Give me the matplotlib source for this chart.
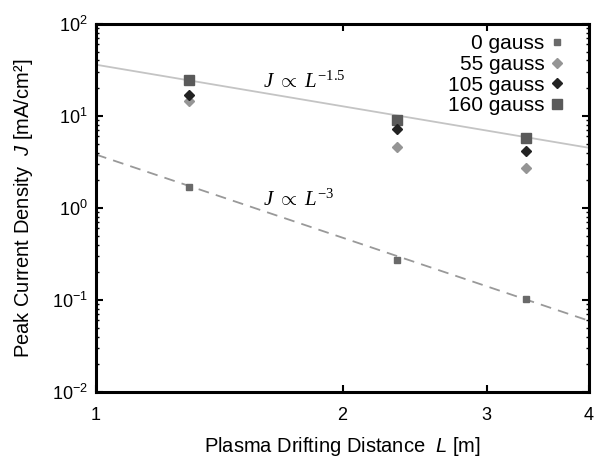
import matplotlib
matplotlib.use("Agg")
import matplotlib.pyplot as plt
import numpy as np
from matplotlib.ticker import FixedLocator, NullLocator, FixedFormatter, LogLocator

plt.rcParams['font.family'] = ['Liberation Sans', 'DejaVu Sans']
plt.rcParams['mathtext.fontset'] = 'custom'
plt.rcParams['mathtext.rm'] = 'Liberation Serif'
plt.rcParams['mathtext.it'] = 'Liberation Serif:italic'
plt.rcParams['mathtext.sf'] = 'Liberation Sans:italic'

# Data
distance = [1.3, 2.33, 3.35]
j_0 = [1.69, 0.272, 0.103]
j_55 = [14.6, 4.6, 2.72]
j_105 = [16.9, 7.2, 4.17]
j_160 = [24.6, 9.05, 5.77]

# scaling-law reference lines
coef_15 = 36.0
coef_3 = 3.8
l_line = np.array([1.0, 4.0])

fig = plt.figure(figsize=(5.98, 4.59), dpi=100)
ax = fig.add_axes([0.1605, 0.146, 0.8245, 0.802])

ax.plot(l_line, coef_15 * l_line ** -1.5, color='#c4c4c4', lw=1.3, zorder=1)
ax.plot(l_line, coef_3 * l_line ** -3, color='#999999', lw=1.3,
        dashes=(6, 4), zorder=1)

ax.plot(distance, j_0, 's', color='#6a6a6a', ms=4.5, label='0 gauss', zorder=3)
ax.plot(distance, j_55, 'D', color='#959595', ms=5, label='55 gauss', zorder=3)
ax.plot(distance, j_105, 'D', color='#222222', ms=5, label='105 gauss', zorder=3)
ax.plot(distance, j_160, 's', color='#5a5a5a', ms=7, label='160 gauss', zorder=2)

ax.set_xscale('log')
ax.set_yscale('log')
ax.set_xlim(1, 4)
ax.set_ylim(1e-2, 1e2)

ax.xaxis.set_major_locator(FixedLocator([1, 2, 3, 4]))
ax.xaxis.set_major_formatter(FixedFormatter(['1', '2', '3', '4']))
ax.xaxis.set_minor_locator(NullLocator())
ax.yaxis.set_major_locator(LogLocator(base=10, numticks=10))
ax.yaxis.set_minor_locator(LogLocator(base=10, subs=np.arange(2, 10), numticks=10))

ax.tick_params(which='both', direction='in', top=True, right=True,
               labelsize=13, width=1.5)
ax.tick_params(which='major', length=5, pad=6)
ax.tick_params(axis='x', which='major', pad=11)
ax.tick_params(which='minor', length=2.5, width=1)
for s in ax.spines.values():
    s.set_linewidth(2.2)

ax.set_xlabel(r'Plasma Drifting Distance  $\mathsf{L}$ [m]', fontsize=14.5, labelpad=8)
ax.set_ylabel(r'Peak Current Density  $\mathsf{J}$ [mA/cm²]', fontsize=14.5, labelpad=12)

ax.text(1.6, 18.5, r'$J\ \propto\ L^{-1.5}$', fontsize=15, ha='left', va='bottom')
ax.text(1.6, 0.95, r'$J\ \propto\ L^{-3}$', fontsize=15, ha='left', va='bottom')

leg = ax.legend(loc='upper right', bbox_to_anchor=(0.965, 0.994), frameon=False,
                markerfirst=False, fontsize=15, handlelength=0.6,
                handletextpad=0.3, labelspacing=0.08, borderaxespad=0)
for t in leg.get_texts():
    t.set_ha('right')
leg._legend_box.align = 'right'

fig.savefig('out.png', dpi=100)
